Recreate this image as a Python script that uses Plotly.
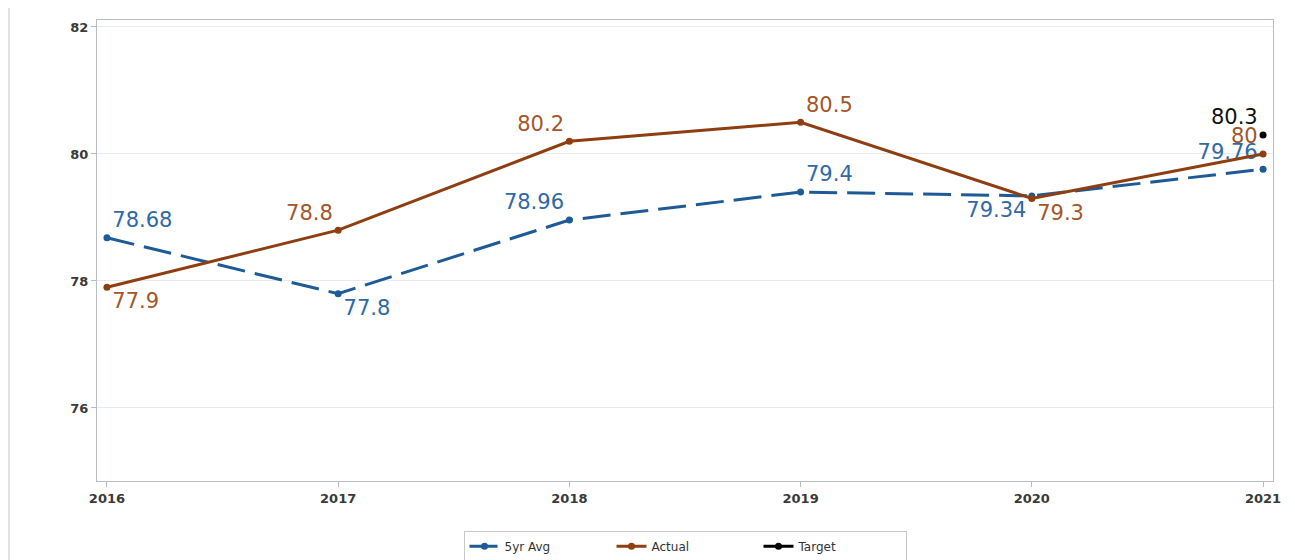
import plotly.graph_objects as go

years = [2016, 2017, 2018, 2019, 2020, 2021]
avg5 = [78.68, 77.8, 78.96, 79.4, 79.34, 79.76]
actual = [77.9, 78.8, 80.2, 80.5, 79.3, 80.0]
target_year = [2021]
target = [80.3]

avg_pos = ["top right", "bottom right", "top left", "top right", "bottom left", "top left"]
act_pos = ["bottom right", "top left", "top left", "top right", "bottom right", "top left"]

BLUE = "#1d5a96"
BLUE_T = "#2f69a6"
BROWN = "#8e3e10"
BROWN_T = "#a4562a"
FONT = "DejaVu Sans, Liberation Sans, Arial, sans-serif"

fig = go.Figure()
fig.add_trace(go.Scatter(
    x=years, y=avg5, name="5yr Avg", mode="lines+markers+text",
    line=dict(color=BLUE, width=3, dash="28px,10px"),
    marker=dict(color=BLUE, size=7),
    text=[f"{v:g}" for v in avg5], textposition=avg_pos,
    textfont=dict(color=BLUE_T, size=21, family=FONT),
))
fig.add_trace(go.Scatter(
    x=years, y=actual, name="Actual", mode="lines+markers+text",
    line=dict(color=BROWN, width=3),
    marker=dict(color=BROWN, size=7),
    text=[f"{v:g}" for v in actual], textposition=act_pos,
    textfont=dict(color=BROWN_T, size=21, family=FONT),
))
fig.add_trace(go.Scatter(
    x=target_year, y=target, name="Target", mode="lines+markers+text",
    line=dict(color="black", width=3),
    marker=dict(color="black", size=7),
    text=[f"{v:g}" for v in target], textposition="top left",
    textfont=dict(color="#111111", size=21, family=FONT),
))

axis_common = dict(
    showline=True, linecolor="#b8bdc3", linewidth=1.2, mirror=True,
    ticks="outside", tickcolor="#b8bdc3", ticklen=5, tickwidth=1,
    tickfont=dict(size=13, color="#3a3a3a", family=FONT, weight="bold"),
    zeroline=False,
)
fig.update_xaxes(
    range=[2015.957, 2021.043], tickvals=years, ticktext=[str(y) for y in years],
    showgrid=False, **axis_common,
)
fig.update_yaxes(
    range=[74.85, 82.11], tickvals=[76, 78, 80, 82],
    showgrid=True, gridcolor="#e8eaed", gridwidth=1, **axis_common,
)

fig.update_layout(
    width=1287, height=552,
    margin=dict(l=89, r=22, t=12, b=79, autoexpand=False),
    paper_bgcolor="white", plot_bgcolor="white",
    font=dict(family=FONT, color="#333333"),
    showlegend=True,
    legend=dict(
        orientation="h", x=0.5, xanchor="center",
        yref="container", y=0.025, yanchor="middle",
        bordercolor="#c8c8c8", borderwidth=1, font=dict(size=12, color="#333333"),
        entrywidth=102, entrywidthmode="pixels",
    ),
    shapes=[
        dict(type="line", xref="paper", yref="paper", x0=-0.0748, x1=-0.0748,
             y0=-0.2, y1=1.028, line=dict(color="#d9d9d9", width=1.5)),
        dict(type="line", xref="paper", yref="paper", x0=-0.0748, x1=1.0187,
             y0=1.028, y1=1.028, line=dict(color="#efefef", width=1)),
    ],
)

fig.write_html("out.html")
